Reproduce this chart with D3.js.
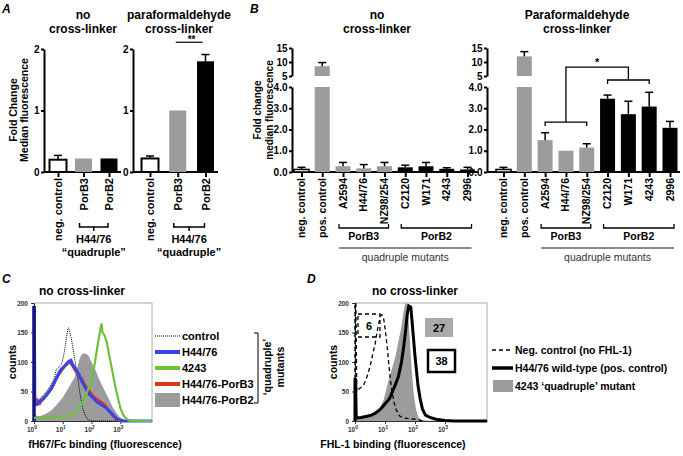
<!DOCTYPE html>
<html>
<head>
<meta charset="utf-8">
<script src="https://cdn.jsdelivr.net/npm/d3@7"></script>
<style>
body { margin: 0; background: #fff; }
text { font-family: "Liberation Sans", Arial, sans-serif; font-weight: bold; }
</style>
</head>
<body>
<div id="container"></div>
<script>
/* DATA */

// panel A
const aCats = ["neg. control", "PorB3", "PorB2"];
const aNoLinker = [0.2, 0.22, 0.22];
const aNoLinkerErr = [0.27, 0, 0];
const aPfa = [0.22, 1.0, 1.8];
const aPfaErr = [0.26, 0, 1.91];

// panel B
const bCats = ["neg. control", "pos. control", "A2594", "H44/76", "NZ98/254", "C2120", "W171", "4243", "2996"];
const bNoLinker = [0.12, 8.5, 0.27, 0.17, 0.27, 0.22, 0.27, 0.15, 0.12];
const bNoLinkerErr = [0.22, 9.8, 0.45, 0.35, 0.45, 0.32, 0.45, 0.2, 0.22];
const bPfa = [0.12, 12, 1.5, 1.0, 1.15, 3.45, 2.72, 3.08, 2.08];
const bPfaErr = [0.22, 13.7, 1.85, 0, 1.33, 3.62, 3.33, 3.75, 2.38];

// panel C  [log10 fluorescence, counts]
const cControl = [[0,30],[0.1,33],[0.25,40],[0.4,48],[0.5,55],[0.6,62],[0.7,72],[0.78,88],[0.85,90],[0.95,96],[1.02,108],[1.08,125],[1.13,142],[1.17,155],[1.2,158],[1.25,150],[1.31,136],[1.38,115],[1.45,95],[1.52,75],[1.58,52],[1.64,35],[1.7,20],[1.78,10],[1.86,3],[1.96,1],[2.1,0],[4.1,0]];
const cSpike = [[0,0],[0,195]];
const cH4476 = [[0.01,195],[0.03,30],[0.1,28],[0.2,34],[0.3,36],[0.4,42],[0.5,48],[0.6,55],[0.7,64],[0.8,75],[0.9,85],[1.0,90],[1.1,95],[1.2,101],[1.28,103],[1.35,95],[1.45,88],[1.55,80],[1.65,68],[1.75,60],[1.85,50],[1.95,44],[2.05,39],[2.15,34],[2.25,30],[2.35,27],[2.45,24],[2.55,20],[2.65,15],[2.75,10],[2.85,5],[2.95,2],[3.1,0],[4.1,0]];
const cPorB3 = [[0.03,32],[0.1,36],[0.2,30],[0.3,38],[0.45,45],[0.6,55],[0.75,70],[0.9,82],[1.05,92],[1.18,98],[1.25,100],[1.35,93],[1.45,85],[1.55,76],[1.65,72],[1.75,62],[1.85,55],[1.95,48],[2.05,42],[2.15,38],[2.25,35],[2.35,31],[2.45,27],[2.55,21],[2.65,15],[2.75,9],[2.85,4],[2.95,1],[3.1,0]];
const c4243 = [[0,5],[0.1,6],[0.3,5],[0.5,7],[0.7,6],[0.9,8],[1.1,8],[1.3,10],[1.45,14],[1.55,20],[1.65,28],[1.75,38],[1.85,50],[1.95,62],[2.05,80],[2.12,100],[2.2,125],[2.27,145],[2.32,160],[2.35,165],[2.38,150],[2.45,145],[2.52,135],[2.6,115],[2.68,95],[2.76,75],[2.84,55],[2.92,38],[3.0,22],[3.08,12],[3.18,5],[3.3,1],[3.4,0],[4.1,0]];
const cPorB2 = [[0,0],[0,10],[0.2,8],[0.4,12],[0.6,18],[0.8,28],[1.0,40],[1.15,52],[1.3,65],[1.4,72],[1.5,90],[1.58,105],[1.65,112],[1.72,115],[1.8,114],[1.88,112],[1.95,105],[2.05,95],[2.15,85],[2.25,72],[2.35,62],[2.45,52],[2.55,42],[2.65,32],[2.75,22],[2.85,15],[2.95,8],[3.05,4],[3.15,1],[3.25,0]];
const cLegend = ["control", "H44/76", "4243", "H44/76-PorB3", "H44/76-PorB2"];

// panel D
const dNeg = [[0,0],[0,200],[0.03,200],[0.06,50],[0.15,55],[0.28,60],[0.4,75],[0.5,92],[0.6,115],[0.67,130],[0.73,150],[0.79,165],[0.85,178],[0.9,180],[0.96,172],[1.02,150],[1.08,122],[1.13,95],[1.18,70],[1.24,48],[1.3,32],[1.38,18],[1.48,9],[1.6,5],[1.8,4],[2.0,3],[2.2,1],[2.35,0]];
const dWild = [[0,0],[0,70],[0.02,70],[0.04,5],[0.2,6],[0.4,8],[0.55,10],[0.7,14],[0.85,20],[0.95,26],[1.05,32],[1.15,38],[1.25,50],[1.35,62],[1.45,76],[1.55,100],[1.62,125],[1.68,150],[1.74,180],[1.79,195],[1.86,193],[1.9,170],[1.95,140],[2.0,110],[2.05,85],[2.1,60],[2.17,38],[2.25,20],[2.35,10],[2.5,6],[2.7,3],[3.0,1],[3.3,0],[4.4,0]];
const d4243 = [[0,0],[0,5],[0.3,6],[0.5,8],[0.7,15],[0.85,25],[0.95,35],[1.05,55],[1.15,75],[1.25,92],[1.35,110],[1.45,135],[1.55,160],[1.62,185],[1.68,200],[1.74,198],[1.78,175],[1.82,145],[1.86,110],[1.9,80],[1.95,50],[2.0,30],[2.06,14],[2.12,6],[2.2,2],[2.35,0]];
const dLegend = ["Neg. control (no FHL-1)", "H44/76 wild-type (pos. control)", "4243 \u2018quadruple\u2019 mutant"];
const dMedians = [6, 27, 38];

/* STYLE */
const grey = "#9c9c9c";
const aFill = ["#fff", grey, "#000"];
const bFill = ["#fff", grey, grey, grey, grey, "#000", "#000", "#000", "#000"];

const svg = d3.select("#container").append("svg")
  .attr("width", 683).attr("height", 456)
  .style("display", "block");

function label(g, x, y, str, size, anchor) {
  return g.append("text").attr("x", x).attr("y", y)
    .attr("text-anchor", anchor || "middle")
    .style("font-size", size + "px")
    .text(str);
}

function rotLabel(g, x, y, str, size, anchor) {
  return g.append("text")
    .attr("transform", `translate(${x},${y}) rotate(-90)`)
    .attr("text-anchor", anchor || "middle")
    .style("font-size", size + "px")
    .text(str);
}

function styleAxis(ax, w) {
  ax.attr("font-family", null).attr("font-size", null);
  ax.selectAll("path,line").attr("stroke", "#000").attr("stroke-width", w);
  ax.selectAll("text").style("font-size", "10px");
}

function errBar(g, cx, y0, y1) {
  g.append("line").attr("x1", cx).attr("x2", cx).attr("y1", y0).attr("y2", y1)
    .attr("stroke", "#000").attr("stroke-width", 1.5);
  g.append("line").attr("x1", cx - 4).attr("x2", cx + 4).attr("y1", y1).attr("y2", y1)
    .attr("stroke", "#000").attr("stroke-width", 1.5);
}

/* PANEL A */
function drawA(x0, xEnd, centers, vals, errs) {
  const g = svg.append("g");
  const x = d3.scalePoint().domain(aCats).range(centers);
  const y = d3.scaleLinear().domain([0, 2]).range([172, 49]);

  const ya = g.append("g").attr("transform", `translate(${x0},0)`)
    .call(d3.axisLeft(y).tickValues([0, 1, 2]).tickSize(3).tickPadding(1.5).tickSizeOuter(0).tickFormat(d3.format("d")));
  styleAxis(ya, 2);

  const xa = g.append("g").attr("transform", "translate(0,172)")
    .call(d3.axisBottom(x).tickSize(5).tickSizeOuter(0).tickFormat(""));
  xa.select(".domain").remove();
  styleAxis(xa, 2);
  g.append("line").attr("x1", x0).attr("x2", xEnd).attr("y1", 172).attr("y2", 172)
    .attr("stroke", "#000").attr("stroke-width", 2);

  aCats.forEach((c, i) => {
    const v = vals[i];
    g.append("rect").attr("x", x(c) - 8.5).attr("width", 17)
      .attr("y", y(v)).attr("height", y(0) - y(v))
      .attr("fill", aFill[i])
      .attr("stroke", i === 0 ? "#000" : "none").attr("stroke-width", 2);
    if (errs[i] > v) errBar(g, x(c), y(v), y(errs[i]));
    rotLabel(g, x(c) + 4, 178, c, 11, "end");
  });

  // bracket under the two mutants
  const bx1 = x("PorB3") - 4, bx2 = x("PorB2") - 1, mid = (bx1 + bx2) / 2;
  g.append("path").attr("d", `M${bx1},223V227H${bx2}V223M${mid},227V231`)
    .attr("fill", "none").attr("stroke", "#000").attr("stroke-width", 1.5);
  label(g, mid, 243, "H44/76", 11);
  label(g, mid, 256, "\u201Cquadruple\u201D", 11);
  return { x, y };
}

const a1 = drawA(44, 121, [58, 109], aNoLinker, aNoLinkerErr);
const a2 = drawA(133, 218, [150, 205.5], aPfa, aPfaErr);

label(svg, 2, 13, "A", 12, "start").style("font-style", "italic");
label(svg, 83, 19, "no", 12);
label(svg, 83, 33, "cross-linker", 12);
label(svg, 179, 19, "paraformaldehyde", 12);
label(svg, 179, 33, "cross-linker", 12);
rotLabel(svg, 17, 110, "Fold Change", 10.5);
rotLabel(svg, 28, 110, "Median fluorescence", 10.5);

// significance A
svg.append("line").attr("x1", a2.x("PorB3") - 2).attr("x2", a2.x("PorB2") - 3)
  .attr("y1", a2.y(2.11)).attr("y2", a2.y(2.11)).attr("stroke", "#000").attr("stroke-width", 1.2);
label(svg, (a2.x("PorB3") + a2.x("PorB2")) / 2, a2.y(2.09), "**", 10);

/* PANEL B */
function drawB(x0, xEnd, centers, vals, errs) {
  const g = svg.append("g");
  const x = d3.scalePoint().domain(bCats).range(centers);
  const yLo = d3.scaleLinear().domain([0, 4]).range([172, 87]);
  const yHi = d3.scaleLinear().domain([5, 15]).range([76, 48]);
  const yv = v => v > 4 ? yHi(v) : yLo(v);

  const a1 = g.append("g").attr("transform", `translate(${x0},0)`)
    .call(d3.axisLeft(yLo).tickValues([0, 1, 2, 3, 4]).tickSize(3).tickPadding(1.5).tickSizeOuter(0));
  const a2 = g.append("g").attr("transform", `translate(${x0},0)`)
    .call(d3.axisLeft(yHi).tickValues([5, 10, 15]).tickSize(3).tickPadding(1.5).tickSizeOuter(0));
  styleAxis(a1, 2);
  styleAxis(a2, 2);

  const xa = g.append("g").attr("transform", "translate(0,172)")
    .call(d3.axisBottom(x).tickSize(5).tickSizeOuter(0).tickFormat(""));
  xa.select(".domain").remove();
  styleAxis(xa, 2);
  g.append("line").attr("x1", x0).attr("x2", xEnd).attr("y1", 172).attr("y2", 172)
    .attr("stroke", "#000").attr("stroke-width", 2);

  bCats.forEach((c, i) => {
    const v = vals[i];
    g.append("rect").attr("x", x(c) - 7.5).attr("width", 15)
      .attr("y", yLo(Math.min(v, 4))).attr("height", yLo(0) - yLo(Math.min(v, 4)))
      .attr("fill", bFill[i])
      .attr("stroke", i === 0 ? "#000" : "none").attr("stroke-width", 1.5);
    if (v > 5) {
      g.append("rect").attr("x", x(c) - 7.5).attr("width", 15)
        .attr("y", yHi(v)).attr("height", yHi(5) - yHi(v))
        .attr("fill", bFill[i]);
    }
    if (errs[i] > v) errBar(g, x(c), yv(v), yv(errs[i]));
    rotLabel(g, x(c) + 3.5, 178, c, 10.5, "end");
  });

  // group brackets
  const groups = [["PorB3", "A2594", "NZ98/254"], ["PorB2", "C2120", "2996"]];
  groups.forEach(([name, first, last]) => {
    const x1 = x(first) - 4, x2 = x(last) + 4;
    g.append("path").attr("d", `M${x1},224V228H${x2}V224`)
      .attr("fill", "none").attr("stroke", "#000").attr("stroke-width", 1.3);
    label(g, (x1 + x2) / 2, 240, name, 10.5);
  });
  const q1 = x("A2594") - 4, q2 = x("2996") + 4;
  g.append("line").attr("x1", q1).attr("x2", q2).attr("y1", 248).attr("y2", 248)
    .attr("stroke", "#666").attr("stroke-width", 1.3);
  label(g, (q1 + q2) / 2, 261, "quadruple mutants", 10.5).style("font-weight", "normal").attr("fill", "#333");
  return { x, yLo };
}

const b1 = drawB(292, 478, [301.5, 467.5], bNoLinker, bNoLinkerErr);
const b2 = drawB(487, 680, [503.5, 670], bPfa, bPfaErr);

label(svg, 250, 13, "B", 12, "start").style("font-style", "italic");
label(svg, 377, 19, "no", 12);
label(svg, 377, 33, "cross-linker", 12);
label(svg, 577, 19, "Paraformaldehyde", 12);
label(svg, 577, 33, "cross-linker", 12);
rotLabel(svg, 261, 110, "Fold change", 10);
rotLabel(svg, 272.5, 110, "median fluorescence", 10);

// significance B
{
  const x = b2.x, y = b2.yLo;
  const l1 = x("A2594"), r1 = x("NZ98/254"), m1 = (l1 + r1) / 2;
  const l2 = x("C2120"), r2 = x("4243"), m2 = (l2 + r2) / 2;
  const yTop = y(4.94);
  svg.append("path")
    .attr("d", `M${l1},${y(2.35) + 4}V${y(2.35)}H${r1}V${y(2.35) + 4}M${m1},${y(2.35)}V${yTop}H${m2}V${y(4.33)}M${l2},${y(4.33) + 4}V${y(4.33)}H${r2}V${y(4.33) + 4}`)
    .attr("fill", "none").attr("stroke", "#000").attr("stroke-width", 1.3);
  label(svg, (m1 + m2) / 2, yTop - 1, "*", 11);
}

/* HISTOGRAM PANELS */
function histAxes(x0, x1, decades) {
  const g = svg.append("g");
  const x = d3.scaleLog().domain([1, Math.pow(10, decades)]).range([x0, x1]);
  const y = d3.scaleLinear().domain([0, 200]).range([421, 303]);
  g.append("rect").attr("x", x0).attr("y", 303).attr("width", x1 - x0).attr("height", 118)
    .attr("fill", "none").attr("stroke", "#aaa").attr("stroke-width", 1);
  const ya = g.append("g").attr("transform", `translate(${x0},0)`)
    .call(d3.axisLeft(y).tickValues([0, 50, 100, 150, 200]).tickSize(3).tickSizeOuter(0));
  ya.attr("font-family", null).attr("font-size", null);
  ya.selectAll("path,line").attr("stroke", "#333");
  ya.selectAll("text").style("font-size", "6.5px").attr("fill", "#333");
  const xa = g.append("g").attr("transform", "translate(0,421)")
    .call(d3.axisBottom(x).tickValues([1, 10, 100, 1000]).tickSize(3).tickSizeOuter(0).tickFormat(""));
  xa.select(".domain").attr("stroke", "#333");
  xa.selectAll("line").attr("stroke", "#333");
  [0, 1, 2, 3].forEach(e => {
    const t = g.append("text").attr("x", x(Math.pow(10, e)) - 2).attr("y", 432)
      .attr("text-anchor", "middle").style("font-size", "6.5px").attr("fill", "#333").text("10");
    t.append("tspan").attr("dy", -3).style("font-size", "5px").text(e);
  });
  rotLabel(g, x0 - 18, 362, "counts", 10.5);
  return { x, y, g };
}

function histLine(h, pts) {
  return d3.line().x(d => h.x(Math.pow(10, d[0]))).y(d => h.y(d[1]))(pts);
}
function histArea(h, pts) {
  return d3.area().x(d => h.x(Math.pow(10, d[0]))).y0(h.y(0)).y1(d => h.y(d[1]))(pts);
}

/* PANEL C */
const hc = histAxes(34, 152, 4.1);
hc.g.append("path").attr("d", histArea(hc, cPorB2)).attr("fill", grey);
hc.g.append("path").attr("d", histLine(hc, cControl)).attr("fill", "none")
  .attr("stroke", "#000").attr("stroke-width", 1).attr("stroke-dasharray", "1,1");
hc.g.append("path").attr("d", histLine(hc, cPorB3)).attr("fill", "none")
  .attr("stroke", "#e0331e").attr("stroke-width", 3);
hc.g.append("path").attr("d", histLine(hc, cH4476)).attr("fill", "none")
  .attr("stroke", "#3446e8").attr("stroke-width", 3);
hc.g.append("path").attr("d", histLine(hc, cSpike)).attr("fill", "none")
  .attr("stroke", "#14147a").attr("stroke-width", 3.5);
hc.g.append("path").attr("d", histLine(hc, c4243)).attr("fill", "none")
  .attr("stroke", "#6cc23a").attr("stroke-width", 2.2);

label(svg, 2, 283, "C", 12, "start").style("font-style", "italic");
label(svg, 82, 295, "no cross-linker", 12);
label(svg, 105, 448, "fH67/Fc binding (fluorescence)", 10.5);

// legend C
const cStroke = [["#000", 1, "1,1"], ["#3446e8", 4, null], ["#6cc23a", 4, null], ["#e0331e", 4, null]];
cLegend.forEach((name, i) => {
  const yy = 336 + i * 16;
  if (i < 4) {
    svg.append("line").attr("x1", 155).attr("x2", 180).attr("y1", yy).attr("y2", yy)
      .attr("stroke", cStroke[i][0]).attr("stroke-width", cStroke[i][1])
      .attr("stroke-dasharray", cStroke[i][2]);
  } else {
    svg.append("rect").attr("x", 155).attr("y", yy - 7).attr("width", 25).attr("height", 14).attr("fill", grey);
  }
  label(svg, 182, yy + 4, name, 11, "start");
});
svg.append("path").attr("d", "M254,333H258V403H254").attr("fill", "none")
  .attr("stroke", "#000").attr("stroke-width", 1);
rotLabel(svg, 271, 367, "\u2018quadruple\u2019", 10.5);
rotLabel(svg, 284, 367, "mutants", 10.5);

/* PANEL D */
const hd = histAxes(355, 487, 4.4);
hd.g.append("path").attr("d", histArea(hd, d4243)).attr("fill", grey);
hd.g.append("path").attr("d", histLine(hd, dNeg)).attr("fill", "none")
  .attr("stroke", "#000").attr("stroke-width", 1.3).attr("stroke-dasharray", "4,3");
hd.g.append("path").attr("d", histLine(hd, dWild)).attr("fill", "none")
  .attr("stroke", "#000").attr("stroke-width", 3);

// median boxes
svg.append("rect").attr("x", 358).attr("y", 314).attr("width", 22).attr("height", 23)
  .attr("fill", "none").attr("stroke", "#000").attr("stroke-width", 1.3).attr("stroke-dasharray", "4,3");
label(svg, 369, 330, dMedians[0], 11);
svg.append("rect").attr("x", 425).attr("y", 318).attr("width", 28).attr("height", 19).attr("fill", "#aaa");
label(svg, 439, 332, dMedians[1], 11);
svg.append("rect").attr("x", 428).attr("y", 350).attr("width", 27).attr("height", 22)
  .attr("fill", "#fff").attr("stroke", "#000").attr("stroke-width", 2.5);
label(svg, 441.5, 365, dMedians[2], 11);

label(svg, 307, 283, "D", 12, "start").style("font-style", "italic");
label(svg, 415, 295, "no cross-linker", 12);
label(svg, 393, 448, "FHL-1 binding (fluorescence)", 10.5);

// legend D
dLegend.forEach((name, i) => {
  const yy = 350 + i * 18;
  if (i === 0) {
    svg.append("line").attr("x1", 492).attr("x2", 513).attr("y1", yy).attr("y2", yy)
      .attr("stroke", "#000").attr("stroke-width", 1.3).attr("stroke-dasharray", "4,3");
  } else if (i === 1) {
    svg.append("line").attr("x1", 492).attr("x2", 513).attr("y1", yy).attr("y2", yy)
      .attr("stroke", "#000").attr("stroke-width", 3.5);
  } else {
    svg.append("rect").attr("x", 493).attr("y", yy - 6).attr("width", 20).attr("height", 12).attr("fill", grey);
  }
  label(svg, 515, yy + 4, name, 10.5, "start");
});
</script>
</body>
</html>
